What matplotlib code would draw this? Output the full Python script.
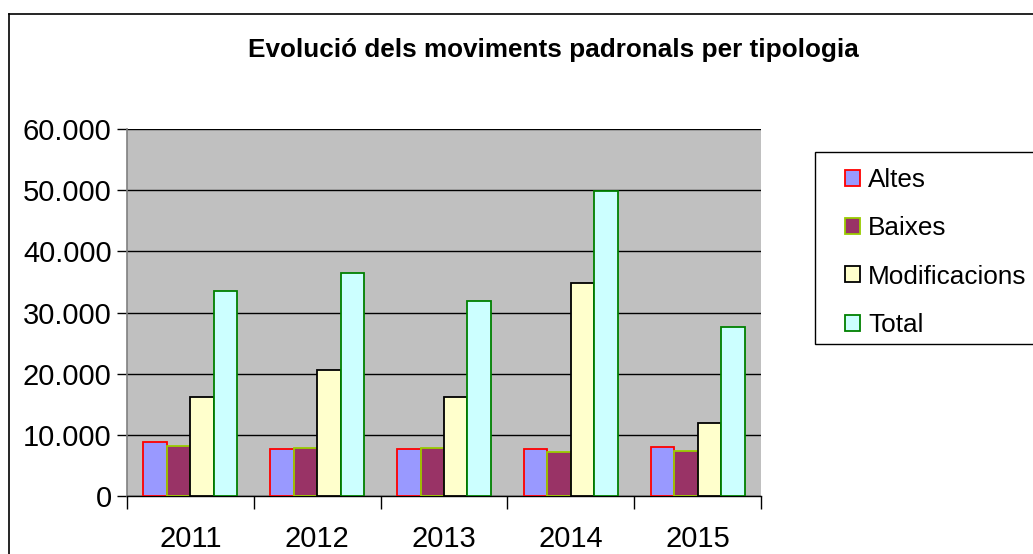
import matplotlib
matplotlib.use("Agg")
import matplotlib.pyplot as plt
import numpy as np
from matplotlib.patches import Rectangle
from matplotlib.lines import Line2D
from matplotlib.ticker import FuncFormatter, MultipleLocator

plt.rcParams['font.family'] = ['Liberation Sans', 'DejaVu Sans']

years = ["2011", "2012", "2013", "2014", "2015"]
series_names = ["Altes", "Baixes", "Modificacions", "Total"]
altes = [8900, 7700, 7700, 7700, 8000]
baixes = [8200, 7900, 7900, 7200, 7400]
modificacions = [16250, 20600, 16200, 34900, 12000]
total = [33450, 36400, 31950, 49800, 27600]
title = "Evolució dels moviments padronals per tipologia"

face_colors = ["#9999FF", "#993366", "#FFFFCC", "#CCFFFF"]
edge_colors = ["#FF0000", "#99CC00", "#000000", "#008000"]

W, H = 1033, 554
fig = plt.figure(figsize=(W / 100, H / 100), dpi=100)

# outer chart border (left and top visible)
fig.add_artist(Line2D([8.5 / W, 8.5 / W], [0, 1 - 13.5 / H], transform=fig.transFigure,
                      color="black", lw=1.2))
fig.add_artist(Line2D([8.5 / W, 1], [1 - 13.5 / H, 1 - 13.5 / H], transform=fig.transFigure,
                      color="black", lw=1.2))

left, right, top, bottom = 127, 761, 129, 496
ax = fig.add_axes([left / W, 1 - bottom / H, (right - left) / W, (bottom - top) / H])
ax.set_facecolor("#C0C0C0")

data = [altes, baixes, modificacions, total]
x = np.arange(len(years))
bw = 0.185
for i, (vals, fc, ec, name) in enumerate(zip(data, face_colors, edge_colors, series_names)):
    ax.bar(x + (i - 1.5) * bw, vals, width=bw, color=fc, edgecolor=ec, linewidth=1.3,
           label=name, zorder=3)

ax.set_xlim(-0.5, len(years) - 0.5)
ax.set_ylim(0, 60000)
ax.yaxis.set_major_locator(MultipleLocator(10000))
ax.yaxis.set_major_formatter(FuncFormatter(lambda v, p: f"{int(v):,}".replace(",", ".")))
ax.yaxis.grid(True, color="black", lw=1.0, zorder=1)
ax.set_axisbelow(True)

ax.set_xticks(x)
ax.set_xticklabels(years)
ax.set_xticks(np.arange(len(years) + 1) - 0.5, minor=True)
ax.tick_params(axis="x", which="major", length=0, pad=21, labelsize=21)
ax.tick_params(axis="x", which="minor", length=9, width=1, color="black", direction="out")
ax.tick_params(axis="y", length=7, width=1, color="black", labelsize=21, pad=4)

for s in ["top", "right"]:
    ax.spines[s].set_visible(False)
ax.spines["left"].set_color("#808080")
ax.spines["left"].set_linewidth(1.2)
ax.spines["bottom"].set_color("black")
ax.spines["bottom"].set_linewidth(1.0)

fig.text(553 / W, 1 - 50 / H, title, ha="center", va="center", fontsize=18.8,
         fontweight="bold")

# legend frame (extends beyond the right edge, as in the reference)
fig.add_artist(Rectangle((814.5 / W, 1 - 343.5 / H), 240 / W, 192 / H,
                         transform=fig.transFigure, facecolor="white",
                         edgecolor="black", lw=1.0, zorder=0.5))
leg = fig.legend(loc="upper left", bbox_to_anchor=(845 / W, 1 - 168 / H),
                 fontsize=18.8, frameon=False,
                 handlelength=0.57, handleheight=0.57, handletextpad=0.32,
                 labelspacing=0.93, borderpad=0.0, borderaxespad=0.0)

fig.savefig("out.png", dpi=100)
